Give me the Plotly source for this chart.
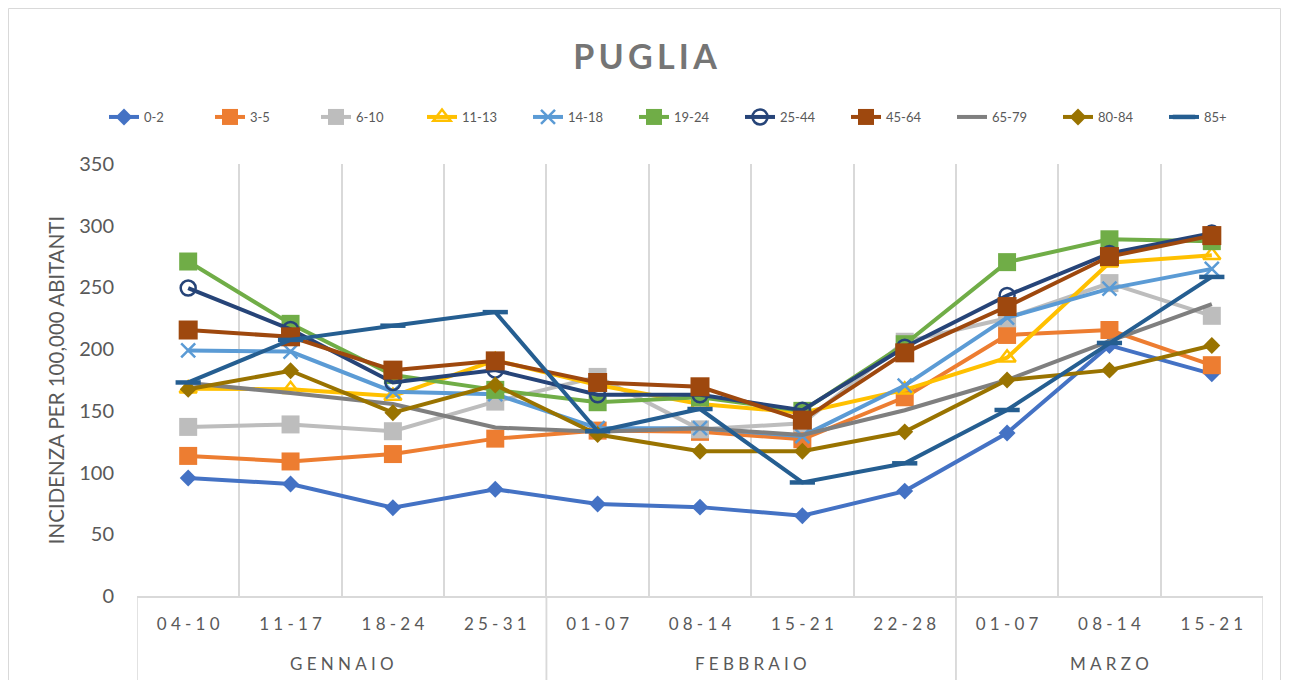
import plotly.graph_objects as go

months = ["GENNAIO", "GENNAIO", "GENNAIO", "GENNAIO",
          "FEBBRAIO", "FEBBRAIO", "FEBBRAIO", "FEBBRAIO",
          "MARZO", "MARZO", "MARZO"]
weeks = ["04-10", "11-17", "18-24", "25-31", "01-07", "08-14", "15-21", "22-28",
         "01-07", "08-14", "15-21"]

age_groups = ["0-2", "3-5", "6-10", "11-13", "14-18", "19-24", "25-44", "45-64",
              "65-79", "80-84", "85+"]

v_0_2 = [95.6, 90.8, 71.5, 86.5, 74.5, 72, 65, 85, 132, 203, 180]
v_3_5 = [113.5, 109, 115, 127.5, 134, 133, 127, 161, 211.5, 215.5, 187]
v_6_10 = [137, 139, 133.5, 157.5, 177.5, 135, 140, 206, 225, 253.5, 227]
v_11_13 = [168, 167.5, 162, 191, 171, 155.5, 148.5, 167, 193, 270, 276]
v_14_18 = [199, 198, 165.5, 163.5, 136, 136, 129.5, 170.5, 225.5, 249, 265]
v_19_24 = [271, 220.5, 179, 167, 157, 161, 150, 204, 270.5, 289, 287.5]
v_25_44 = [249.5, 216, 173, 183, 163, 163, 150.5, 201.5, 243.5, 277.5, 294]
v_45_64 = [215.5, 210, 183, 190.5, 173, 169.5, 142.5, 197, 234.5, 275, 292]
v_65_79 = [172.5, 164.5, 155.5, 136.5, 133, 136, 130.5, 150.5, 175, 206.5, 236.5]
v_80_84 = [167.5, 182.5, 148.5, 171, 130.8, 117.3, 117.3, 133, 175, 183, 203]
v_85 = [173, 207.5, 219, 230, 133.5, 151.5, 92, 107.5, 150.7, 205, 258.5]

series_values = [v_0_2, v_3_5, v_6_10, v_11_13, v_14_18, v_19_24, v_25_44,
                 v_45_64, v_65_79, v_80_84, v_85]

colors = ["#4472C4", "#ED7D31", "#BDBDBD", "#FFC000", "#5B9BD5", "#70AD47",
          "#264478", "#9E480E", "#7F7F7F", "#997300", "#255E91"]
symbols = ["diamond", "square", "square", "triangle-up-open", "x-thin-open",
           "square", "circle-open", "square", None, "diamond", "line-ew-open"]
sizes = [13, 18, 18, 15, 14, 18, 15, 19, 0, 13, 18]

# letter-spaced rendering of labels (Excel-like character spacing)
SP = "\u2005"


def spaced(s, sep=SP):
    return sep.join(list(s))


idx = list(range(len(weeks)))

fig = go.Figure()
for name, vals, col, sym, sz in zip(age_groups, series_values, colors, symbols, sizes):
    if sym is None:
        mode = "lines"
        marker = dict()
    else:
        mode = "lines+markers"
        if sym.endswith("open"):
            marker = dict(symbol=sym, size=sz, color=col,
                          line=dict(color=col, width=2.5 if sym != "line-ew-open" else 4.5))
        else:
            marker = dict(symbol=sym, size=sz, color=col, line=dict(width=0))
    fig.add_trace(go.Scatter(
        x=idx, y=vals, name=name, mode=mode,
        line=dict(color=col, width=4), marker=marker,
    ))

font_family = "Lato, Open Sans, sans-serif"

W, H = 1274, 672
L, R, T, B = 129, 19, 156, 84
PW, PH = W - L - R, H - T - B

fig.update_layout(
    width=W, height=H,
    margin=dict(l=L, r=R, t=T, b=B),
    paper_bgcolor="white", plot_bgcolor="white",
    font=dict(family=font_family, color="#595959"),
    title=dict(text="<b>" + spaced("PUGLIA", "\u2009") + "</b>", x=0.5, xanchor="center",
               y=1 - 49 / H, yanchor="middle",
               font=dict(size=34, color="#757575", family=font_family)),
    legend=dict(orientation="h", x=-33 / PW, xanchor="left", y=(588 - 109) / PH,
                yanchor="middle", font=dict(size=13, color="#595959"),
                entrywidth=61, entrywidthmode="pixels",
                bgcolor="rgba(0,0,0,0)"),
    showlegend=True,
)

fig.update_xaxes(
    range=[-0.5, len(weeks) - 0.5],
    tickmode="array", tickvals=idx, ticktext=[spaced(w) for w in weeks],
    showgrid=False,
    minor=dict(tick0=-0.5, dtick=1, showgrid=True, gridcolor="#D9D9D9", gridwidth=1.5),
    showline=True, linecolor="#D9D9D9", linewidth=2,
    tickfont=dict(size=17, color="#595959"),
    ticks="", zeroline=False, ticklabelstandoff=12,
)
fig.update_yaxes(
    range=[0, 350], dtick=50, showgrid=False, zeroline=False, showline=False,
    tickfont=dict(size=20, color="#595959"),
    ticklabelstandoff=22,
    title=dict(text="INCIDENZA PER 100,000 ABITANTI", font=dict(size=20.5, color="#595959"),
               standoff=9),
)

# month group labels and dividers below the axis
month_names = []
for m in months:
    if m not in month_names:
        month_names.append(m)
for m in month_names:
    pos = [i for i, mm in enumerate(months) if mm == m]
    fig.add_annotation(x=sum(pos) / len(pos), y=-67 / PH, xref="x", yref="paper",
                       text=spaced(m), showarrow=False, yanchor="middle",
                       font=dict(size=17, color="#595959"))
    for edge in (pos[0] - 0.5, pos[-1] + 0.5):
        fig.add_shape(type="line", xref="x", yref="paper", x0=edge, x1=edge,
                      y0=0, y1=-84 / PH, line=dict(color="#D9D9D9", width=1.5))

# chart border
fig.add_shape(type="rect", xref="paper", yref="paper",
              x0=(-L + 0.5) / PW, x1=1 + (R - 1.5) / PW,
              y0=-(B + 20) / PH, y1=1 + (T - 0.5) / PH,
              line=dict(color="#D9D9D9", width=1), fillcolor="rgba(0,0,0,0)", layer="below")

fig.write_html("out.html")
